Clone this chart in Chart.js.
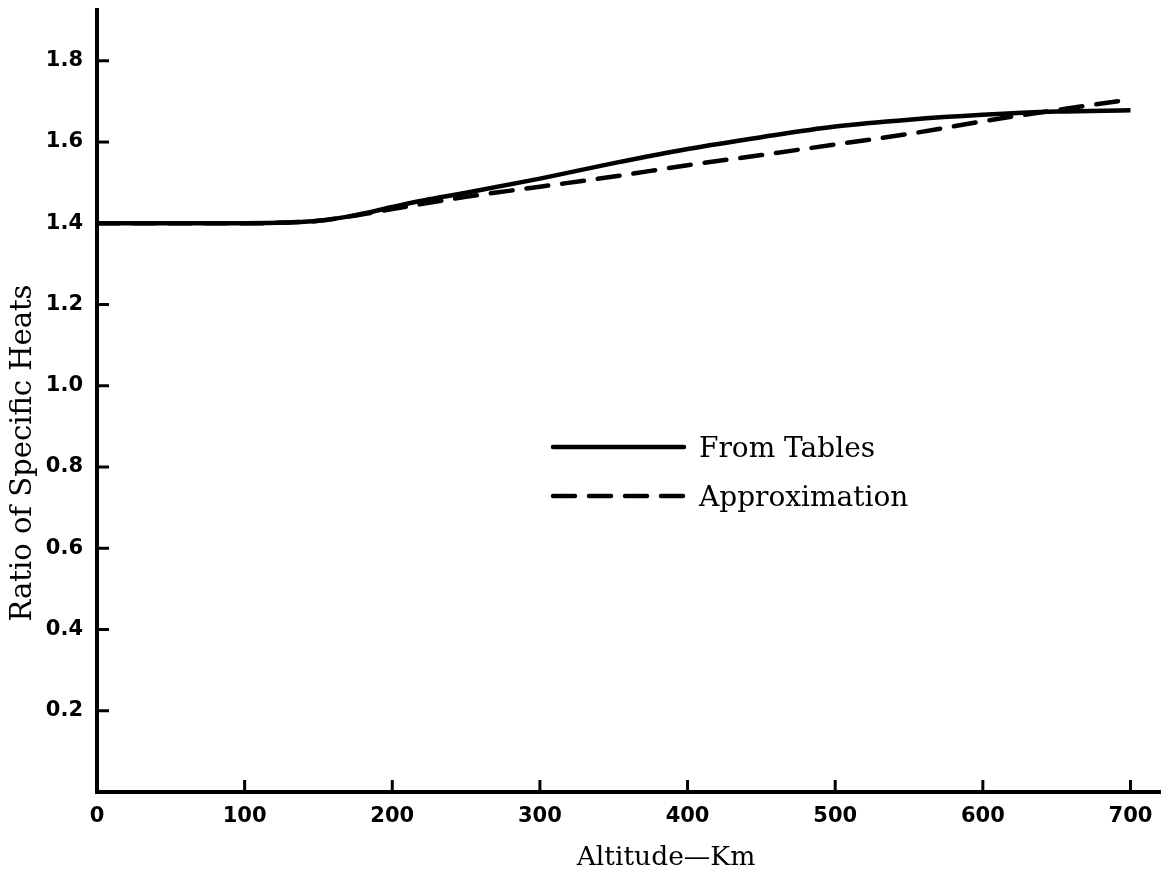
<!DOCTYPE html>
<html>
<head>
<meta charset="utf-8">
<script src="https://cdn.jsdelivr.net/npm/chart.js@4"></script>
<style>
html,body{margin:0;padding:0;background:#fff;}
#wrap{width:1165px;height:883px;position:relative;}
</style>
</head>
<body>
<div id="wrap"><canvas id="c" width="1165" height="883"></canvas></div>
<script>
// ---- data ----
const altitudes = [0, 50, 100, 130, 150, 175, 200, 225, 250, 300, 350, 400, 450, 500, 550, 600, 650, 700];
const fromTables = [1.40, 1.40, 1.40, 1.402, 1.406, 1.42, 1.44, 1.459, 1.475, 1.51, 1.548, 1.583, 1.612, 1.638, 1.655, 1.667, 1.675, 1.678];
const approxAlt = [0, 50, 100, 130, 150, 180, 200, 250, 300, 350, 400, 450, 500, 550, 600, 650, 700];
const approximation = [1.40, 1.40, 1.40, 1.402, 1.406, 1.422, 1.435, 1.465, 1.49, 1.515, 1.543, 1.568, 1.594, 1.62, 1.651, 1.679, 1.705];
const xTicks = [0, 100, 200, 300, 400, 500, 600, 700];
const yTicks = [0.2, 0.4, 0.6, 0.8, 1.0, 1.2, 1.4, 1.6, 1.8];
const yTickLabels = ["0.2", "0.4", "0.6", "0.8", "1.0", "1.2", "1.4", "1.6", "1.8"];
const seriesNames = ["From Tables", "Approximation"];
const xTitle = "Altitude\u2014Km";
const yTitle = "Ratio of Specific Heats";

const tickFont = {family: "'DejaVu Sans', sans-serif", size: 21, weight: 'bold'};
const serif = "'DejaVu Serif', serif";

const decor = {
  id: 'decor',
  afterDraw(chart) {
    const ctx = chart.ctx;
    const xs = chart.scales.x, ys = chart.scales.y;
    const ca = chart.chartArea;
    ctx.save();
    // inner tick marks
    ctx.strokeStyle = '#000';
    ctx.lineWidth = 3;
    ctx.lineCap = 'butt';
    xTicks.forEach(v => {
      if (v === 0) return;
      const px = xs.getPixelForValue(v);
      ctx.beginPath(); ctx.moveTo(px, ca.bottom); ctx.lineTo(px, ca.bottom - 12); ctx.stroke();
    });
    yTicks.forEach(v => {
      const py = ys.getPixelForValue(v);
      ctx.beginPath(); ctx.moveTo(ca.left, py); ctx.lineTo(ca.left + 12, py); ctx.stroke();
    });
    // legend
    const ds = chart.data.datasets;
    const rows = [447, 496];
    ds.forEach((d, i) => {
      ctx.save();
      ctx.strokeStyle = d.borderColor;
      ctx.lineWidth = d.borderWidth;
      ctx.lineCap = 'round';
      ctx.setLineDash(d.borderDash || []);
      ctx.beginPath(); ctx.moveTo(553, rows[i]); ctx.lineTo(684, rows[i]); ctx.stroke();
      ctx.restore();
      ctx.fillStyle = '#000';
      ctx.font = '28px ' + serif;
      ctx.textBaseline = 'middle';
      ctx.textAlign = 'left';
      ctx.fillText(d.label, 699, rows[i] + 3);
    });
    // axis titles
    ctx.font = '26.5px ' + serif;
    ctx.textAlign = 'center';
    ctx.textBaseline = 'middle';
    ctx.fillText(xTitle, 666, 858);
    ctx.font = '29px ' + serif;
    ctx.translate(23, 453);
    ctx.rotate(-Math.PI / 2);
    ctx.fillText(yTitle, 0, 0);
    ctx.restore();
  }
};

new Chart(document.getElementById('c'), {
  type: 'line',
  data: {
    datasets: [
      {
        label: seriesNames[0],
        data: altitudes.map((a, i) => ({x: a, y: fromTables[i]})),
        borderColor: '#000', borderWidth: 4.5, pointRadius: 0,
        cubicInterpolationMode: 'monotone', fill: false
      },
      {
        label: seriesNames[1],
        data: approxAlt.map((a, i) => ({x: a, y: approximation[i]})),
        borderColor: '#000', borderWidth: 4.5, pointRadius: 0,
        borderDash: [22, 14], borderCapStyle: 'round',
        cubicInterpolationMode: 'monotone', fill: false
      }
    ]
  },
  options: {
    responsive: false,
    animation: false,
    devicePixelRatio: 1,
    layout: {padding: {top: 10, right: 5, left: 0, bottom: 0}},
    plugins: {legend: {display: false}, tooltip: {enabled: false}, title: {display: false}},
    scales: {
      x: {
        type: 'linear', min: 0, max: 720,
        afterBuildTicks: s => { s.ticks = xTicks.map(v => ({value: v})); },
        afterFit: s => { s.height = 91; s.paddingLeft = 0; s.paddingRight = 0; },
        grid: {display: false, drawOnChartArea: false, drawTicks: false},
        border: {display: true, color: '#000', width: 4},
        ticks: {color: '#000', font: tickFont, padding: 12, maxRotation: 0, autoSkip: false,
          callback: v => String(v)}
      },
      y: {
        type: 'linear', min: 0, max: 1.925,
        afterBuildTicks: s => { s.ticks = yTicks.map(v => ({value: v})); },
        afterFit: s => { s.width = 97; s.paddingTop = 0; s.paddingBottom = 0; },
        grid: {display: false, drawOnChartArea: false, drawTicks: false},
        border: {display: true, color: '#000', width: 4},
        ticks: {color: '#000', font: tickFont, padding: 14, autoSkip: false,
          callback: v => { const i = yTicks.findIndex(t => Math.abs(t - v) < 1e-6); return i >= 0 ? yTickLabels[i] : ''; }}
      }
    }
  },
  plugins: [decor]
});
</script>
</body>
</html>
